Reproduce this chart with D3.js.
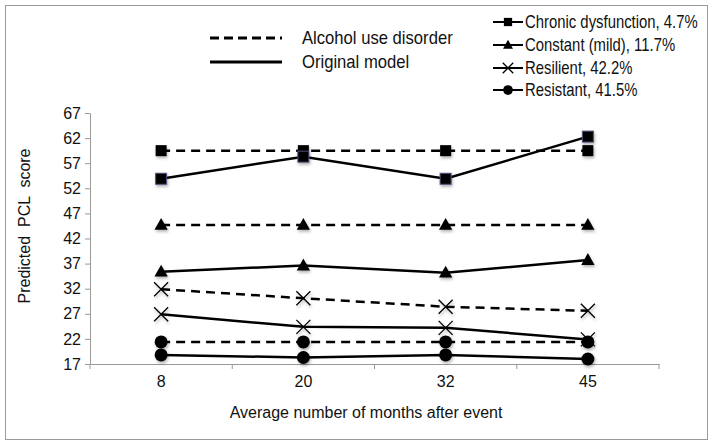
<!DOCTYPE html>
<html><head><meta charset="utf-8">
<script src="https://cdn.jsdelivr.net/npm/d3@7"></script>
<style>body{margin:0;background:#fff}svg{display:block;font-family:"Liberation Sans",Arial,sans-serif}</style>
</head><body><svg id="c" width="714" height="447"></svg>
<script>
const months = ["8","20","32","45"];
const groups = ["Chronic dysfunction, 4.7%","Constant (mild), 11.7%","Resilient, 42.2%","Resistant, 41.5%"];
const groupShapes = ["square","triangle","cross","circle"];
const chronicAlcohol = [59.5,59.5,59.5,59.5];
const chronicOriginal = [53.9,58.3,53.9,62.3];
const constantAlcohol = [44.7,44.7,44.7,44.7];
const constantOriginal = [35.4,36.6,35.2,37.7];
const resilientAlcohol = [31.9,30.1,28.4,27.6];
const resilientOriginal = [26.9,24.4,24.2,21.9];
const resistantAlcohol = [21.4,21.4,21.4,21.4];
const resistantOriginal = [18.8,18.3,18.8,18.0];
const yTicks = [17,22,27,32,37,42,47,52,57,62,67];
const modelLabels = ["Alcohol use disorder","Original model"];

const series = [
  {g:0,dash:true,v:chronicAlcohol},{g:0,dash:false,v:chronicOriginal},
  {g:1,dash:true,v:constantAlcohol},{g:1,dash:false,v:constantOriginal},
  {g:2,dash:true,v:resilientAlcohol},{g:2,dash:false,v:resilientOriginal},
  {g:3,dash:true,v:resistantAlcohol},{g:3,dash:false,v:resistantOriginal}
];

const svg = d3.select("#c");
svg.append("rect").attr("x",5.5).attr("y",5.5).attr("width",702).attr("height",434)
  .attr("fill","none").attr("stroke","#9a9a9a").attr("stroke-width",1);

const x = d3.scaleBand().domain(months).range([90,659]);
const y = d3.scaleLinear().domain([17,67]).range([364,113]);

const defs = svg.append("defs");
const f = defs.append("filter").attr("id","sh").attr("x","-50%").attr("y","-50%").attr("width","200%").attr("height","200%");
f.append("feDropShadow").attr("dx",1).attr("dy",2).attr("stdDeviation",1.5).attr("flood-color","#000").attr("flood-opacity",0.3);

// axes
const ya = svg.append("g").attr("transform","translate(90,0)")
  .call(d3.axisLeft(y).tickValues(yTicks).tickSize(5).tickSizeOuter(0).tickPadding(4));
ya.select(".domain").attr("stroke","#999");
ya.selectAll(".tick line").attr("stroke","#999");
ya.selectAll(".tick text").attr("font-size",16).attr("fill","#111").attr("font-family","Liberation Sans, Arial");

const xa = svg.append("g").attr("transform","translate(0,364)")
  .call(d3.axisBottom(x).tickSize(0).tickPadding(12));
xa.select(".domain").attr("stroke","#999");
xa.selectAll(".tick text").attr("font-size",16).attr("fill","#111").attr("font-family","Liberation Sans, Arial");
const bounds = months.map(m=>x(m)).concat([x.range()[1]]);
svg.append("g").selectAll("line").data(bounds).join("line")
  .attr("x1",d=>d).attr("x2",d=>d).attr("y1",364).attr("y2",369).attr("stroke","#999");

svg.append("text").attr("x",366).attr("y",418).attr("text-anchor","middle")
  .attr("font-size",16).attr("fill","#111").text("Average number of months after event");
svg.append("text").attr("transform","translate(30,226) rotate(-90)").attr("text-anchor","middle")
  .attr("font-size",16).attr("fill","#111").attr("xml:space","preserve").text("Predicted  PCL  score");

// lines
const line = d3.line().x((d,i)=>x(months[i])+x.bandwidth()/2).y(d=>y(d));
svg.append("g").selectAll("path").data(series).join("path")
  .attr("d",d=>line(d.v)).attr("fill","none").attr("stroke","#000")
  .attr("stroke-width",2.5).attr("stroke-dasharray",d=>d.dash?"9,6":null);

function drawMarker(g, shape, cx, cy, scale, purple){
  const s = scale||1;
  if(shape==="square"){
    g.append("rect").attr("x",cx-5.5*s).attr("y",cy-5.5*s).attr("width",11*s).attr("height",11*s)
      .attr("fill","#000").attr("stroke",purple?"#5a4a80":"none").attr("stroke-width",1);
  } else if(shape==="triangle"){
    const r=7*s;
    g.append("path").attr("d",`M${cx},${cy-r}L${cx+r*0.95},${cy+r*0.7}L${cx-r*0.95},${cy+r*0.7}Z`).attr("fill","#000");
  } else if(shape==="cross"){
    const r=7*s;
    g.append("path").attr("d",`M${cx-r},${cy-r}L${cx+r},${cy+r}M${cx-r},${cy+r}L${cx+r},${cy-r}`)
      .attr("stroke","#000").attr("stroke-width",1.3).attr("fill","none");
  } else {
    g.append("circle").attr("cx",cx).attr("cy",cy).attr("r",6.5*s).attr("fill","#000");
  }
}
const mg = svg.append("g").attr("filter","url(#sh)");
series.forEach(s=>{
  s.v.forEach((v,i)=>{
    drawMarker(mg, groupShapes[s.g], x(months[i])+x.bandwidth()/2, y(v), 1, s.g===0 && !s.dash);
  });
});

// left legend
const ll = svg.append("g");
[0,1].forEach(i=>{
  const yy = 38+i*24;
  ll.append("line").attr("x1",210).attr("x2",282).attr("y1",yy).attr("y2",yy)
    .attr("stroke","#000").attr("stroke-width",3).attr("stroke-dasharray",i===0?"9,5":null);
  ll.append("text").attr("transform",`translate(302,${yy+6}) scale(0.9,1)`)
    .attr("font-size",18.5).attr("fill","#111").text(modelLabels[i]);
});

// right legend
const rl = svg.append("g");
groups.forEach((gname,i)=>{
  const yy = [22,45,68,90][i];
  rl.append("line").attr("x1",493).attr("x2",523).attr("y1",yy).attr("y2",yy).attr("stroke","#000").attr("stroke-width",2);
  drawMarker(rl, groupShapes[i], 508, yy, 0.75, false);
  rl.append("text").attr("transform",`translate(525,${yy+6}) scale(0.85,1)`)
    .attr("font-size",17.5).attr("fill","#111").text(gname);
});
</script></body></html>
